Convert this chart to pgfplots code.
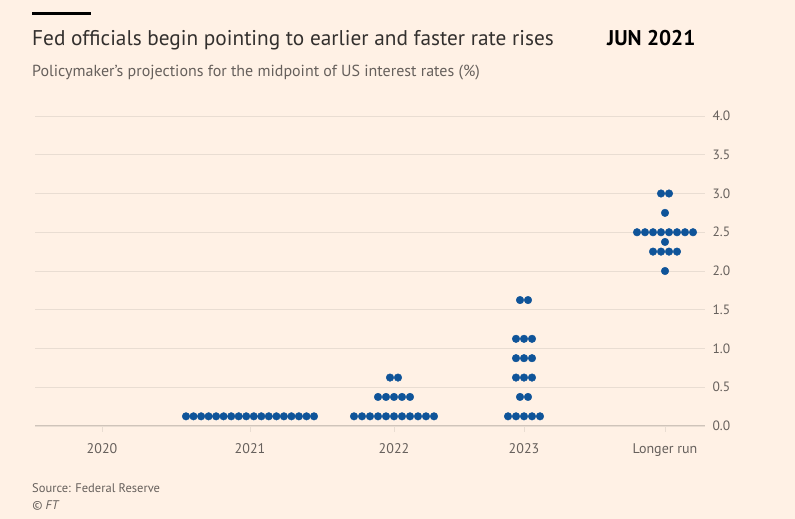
\documentclass[border=0pt]{standalone}
\usepackage{fontspec}
\setmainfont{PT Sans}
\usepackage{pgfplots}
\pgfplotsset{compat=1.18}
\definecolor{bg}{HTML}{FFF1E5}
\definecolor{dotc}{HTML}{0F5499}
\definecolor{gridc}{HTML}{E9DDD2}
\definecolor{basec}{HTML}{CFC4BA}
\definecolor{tickc}{HTML}{66605C}
\definecolor{titlec}{HTML}{33302E}
\begin{document}
\begin{tikzpicture}[x=1pt,y=1pt]
\fill[bg] (0,0) rectangle (795,519);
\useasboundingbox (0,0) rectangle (795,519);
\fill[black] (32,504) rectangle (91,507);
\node[anchor=base west, inner sep=0, text=titlec, font=\fontsize{21.3}{25}\selectfont] at (32,473) {Fed officials begin pointing to earlier and faster rate rises};
\node[anchor=base west, inner sep=0, text=black, font=\fontsize{21.3}{25}\selectfont\bfseries] at (607,473) {JUN 2021};
\node[anchor=base west, inner sep=0, text=tickc, font=\fontsize{16}{19}\selectfont] at (32,442) {Policymaker's projections for the midpoint of US interest rates (\%)};
\node[anchor=base west, inner sep=0, text=tickc, font=\fontsize{12.5}{15}\selectfont] at (32,26) {Source: Federal Reserve};
\node[anchor=base west, inner sep=0, text=tickc, font=\fontsize{12.5}{15}\selectfont\itshape] at (32,9) {\textcopyright{} FT};
\begin{axis}[
  at={(35,120)}, anchor=south west,
  scale only axis, width=670pt, height=310pt,
  xmin=35, xmax=705, ymin=0, ymax=4,
  axis line style={draw=none},
  clip=false,
  ytick={0,0.5,...,4},
  yticklabel pos=right,
  yticklabel style={anchor=west, xshift=-2pt, text=tickc, font=\fontsize{13.5}{15}\selectfont},
  /pgf/number format/assume math mode=true,
  /pgf/number format/.cd, fixed, fixed zerofill, precision=1, /pgfplots/.cd,
  ytick style={draw=none},
  ymajorgrids,
  major grid style={color=gridc, line width=0.8pt},
  xtick={102,250,394,524,665},
  xticklabels={2020,2021,2022,2023,Longer run},
  xtick pos=bottom,
  tick align=outside,
  major tick length=6pt,
  xtick style={color=gridc, line width=0.8pt},
  xticklabel style={text=tickc, font=\fontsize{14}{16}\selectfont, yshift=-8pt},
]
\draw[basec, line width=1pt] (axis cs:35,0) -- (axis cs:705,0);
\addplot[only marks, mark=*, mark size=3.8pt, color=dotc, mark options={draw=none, fill=dotc}] coordinates {
(186.0,0.125) (193.5,0.125) (201.1,0.125) (208.6,0.125) (216.1,0.125) (223.6,0.125) (231.2,0.125) (238.7,0.125) (246.2,0.125)
(253.8,0.125) (261.3,0.125) (268.8,0.125) (276.4,0.125) (283.9,0.125) (291.4,0.125) (298.9,0.125) (306.5,0.125) (314.0,0.125)
};
\addplot[only marks, mark=*, mark size=3.8pt, color=dotc, mark options={draw=none, fill=dotc}] coordinates {
(354,0.125) (362,0.125) (370,0.125) (378,0.125) (386,0.125) (394,0.125) (402,0.125) (410,0.125) (418,0.125) (426,0.125) (434,0.125)
(378,0.375) (386,0.375) (394,0.375) (402,0.375) (410,0.375)
(390,0.625) (398,0.625)
};
\addplot[only marks, mark=*, mark size=3.8pt, color=dotc, mark options={draw=none, fill=dotc}] coordinates {
(508,0.125) (516,0.125) (524,0.125) (532,0.125) (540,0.125)
(520,0.375) (528,0.375)
(516,0.625) (524,0.625) (532,0.625)
(516,0.875) (524,0.875) (532,0.875)
(516,1.125) (524,1.125) (532,1.125)
(520,1.625) (528,1.625)
};
\addplot[only marks, mark=*, mark size=3.8pt, color=dotc, mark options={draw=none, fill=dotc}] coordinates {
(665,2.0)
(653,2.25) (661,2.25) (669,2.25) (677,2.25)
(665,2.375)
(637,2.5) (645,2.5) (653,2.5) (661,2.5) (669,2.5) (677,2.5) (685,2.5) (693,2.5)
(665,2.75)
(661,3.0) (669,3.0)
};
\end{axis}
\end{tikzpicture}
\end{document}
